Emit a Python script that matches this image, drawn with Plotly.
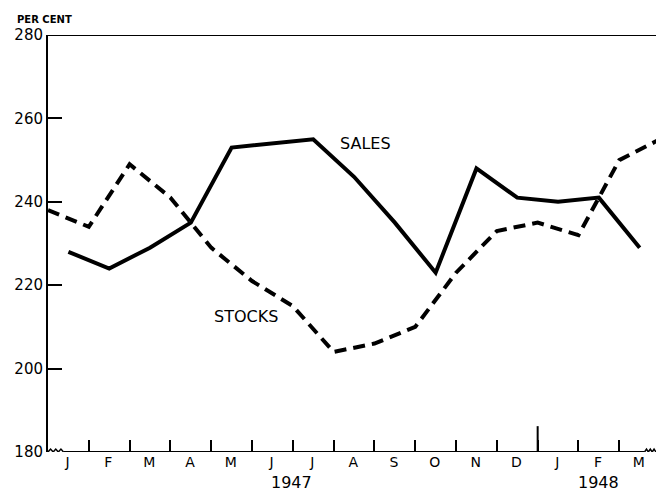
import plotly.graph_objects as go

# Month labels (Jan 1947 .. Mar 1948)
months = ["J", "F", "M", "A", "M", "J", "J", "A", "S", "O", "N", "D", "J", "F", "M"]
month_pos = [i + 0.48 for i in range(len(months))]

# Sales plotted mid-month
sales_x = [i + 0.5 for i in range(len(months))]
sales = [228, 224, 229, 235, 253, 254, 255, 246, 235, 223, 248, 241, 240, 241, 229]

# Stocks plotted end-of-month (end Dec 1946 .. end Mar 1948)
stocks_x = list(range(16))
stocks = [238, 234, 249, 241, 229, 221, 215, 204, 206, 210, 223, 233, 235, 232, 250, 255]

y_ticks = [180, 200, 220, 240, 260, 280]
years = ["1947", "1948"]
year_pos = [5.96, 13.48]

FONT = "DejaVu Sans"

fig = go.Figure()
fig.add_trace(go.Scatter(x=sales_x, y=sales, mode="lines",
                         line=dict(color="black", width=4), showlegend=False,
                         hoverinfo="skip"))
fig.add_trace(go.Scatter(x=stocks_x, y=stocks, mode="lines",
                         line=dict(color="black", width=4, dash="12px,7px"),
                         showlegend=False, hoverinfo="skip"))

shapes = []
# top border
shapes.append(dict(type="line", xref="paper", yref="y", x0=0, x1=1, y0=280, y1=280,
                   line=dict(color="black", width=2)))
# bottom baseline (with axis breaks)
shapes.append(dict(type="line", xref="x", yref="y", x0=0.38, x1=14.62, y0=180, y1=180,
                   line=dict(color="black", width=2)))
# squiggle breaks
def squiggle(x0, x1):
    n = 6
    pts = []
    for k in range(n + 1):
        xx = x0 + (x1 - x0) * k / n
        yy = 180 + (0.7 if k % 2 else 0)
        pts.append(f"{xx:.3f},{yy:.2f}")
    return "M " + " L ".join(pts)
shapes.append(dict(type="path", xref="x", yref="y", path=squiggle(0.0, 0.38),
                   line=dict(color="black", width=1.5)))
shapes.append(dict(type="path", xref="x", yref="y", path=squiggle(14.62, 14.9),
                   line=dict(color="black", width=1.5)))
# year divider tick
shapes.append(dict(type="line", xref="x", yref="y", x0=12, x1=12, y0=180, y1=186.2,
                   line=dict(color="black", width=2)))
fig.update_layout(shapes=shapes)

annotations = [
    dict(text="SALES", x=7.79, y=253.9, xref="x", yref="y", showarrow=False,
         font=dict(family=FONT, size=16, color="black")),
    dict(text="STOCKS", x=4.85, y=212.4, xref="x", yref="y", showarrow=False,
         font=dict(family=FONT, size=16, color="black")),
    dict(text="<b>PER CENT</b>", x=-0.054, y=1.036, xref="paper", yref="paper",
         xanchor="left", yanchor="middle", showarrow=False,
         font=dict(family=FONT, size=10, color="black")),
]
for yr, xp in zip(years, year_pos):
    annotations.append(dict(text=yr, x=xp, y=-0.072, xref="x", yref="paper",
                            showarrow=False, yanchor="middle",
                            font=dict(family=FONT, size=16, color="black")))
fig.update_layout(annotations=annotations)

fig.update_layout(
    width=656, height=493,
    margin=dict(l=48, r=0, t=35, b=41),
    paper_bgcolor="white", plot_bgcolor="white",
    xaxis=dict(range=[0, 14.9], showgrid=False, zeroline=False, showline=False,
               automargin=False,
               tickvals=month_pos, ticktext=months, ticks="",
               tickfont=dict(family=FONT, size=14, color="black"),
               minor=dict(tickvals=list(range(1, 15)), ticks="inside", ticklen=12,
                          tickwidth=1.5, tickcolor="black", showgrid=False)),
    yaxis=dict(range=[180, 280], showgrid=False, zeroline=False, showline=True,
               automargin=False,
               linecolor="black", linewidth=2, tickvals=y_ticks,
               ticks="inside", ticklen=14, tickwidth=2, tickcolor="black",
               tickfont=dict(family=FONT, size=15, color="black")),
    yaxis2=dict(range=[180, 280], overlaying="y", side="right", anchor="x",
                automargin=False,
                showgrid=False, zeroline=False, showline=False,
                tickvals=[200, 220, 240, 260], ticks="inside", ticklen=12,
                tickwidth=2, tickcolor="black", showticklabels=False),
)

fig.write_html("out.html", config={"displayModeBar": False},
               post_script="document.body.style.margin='0';document.body.style.overflow='hidden';")
